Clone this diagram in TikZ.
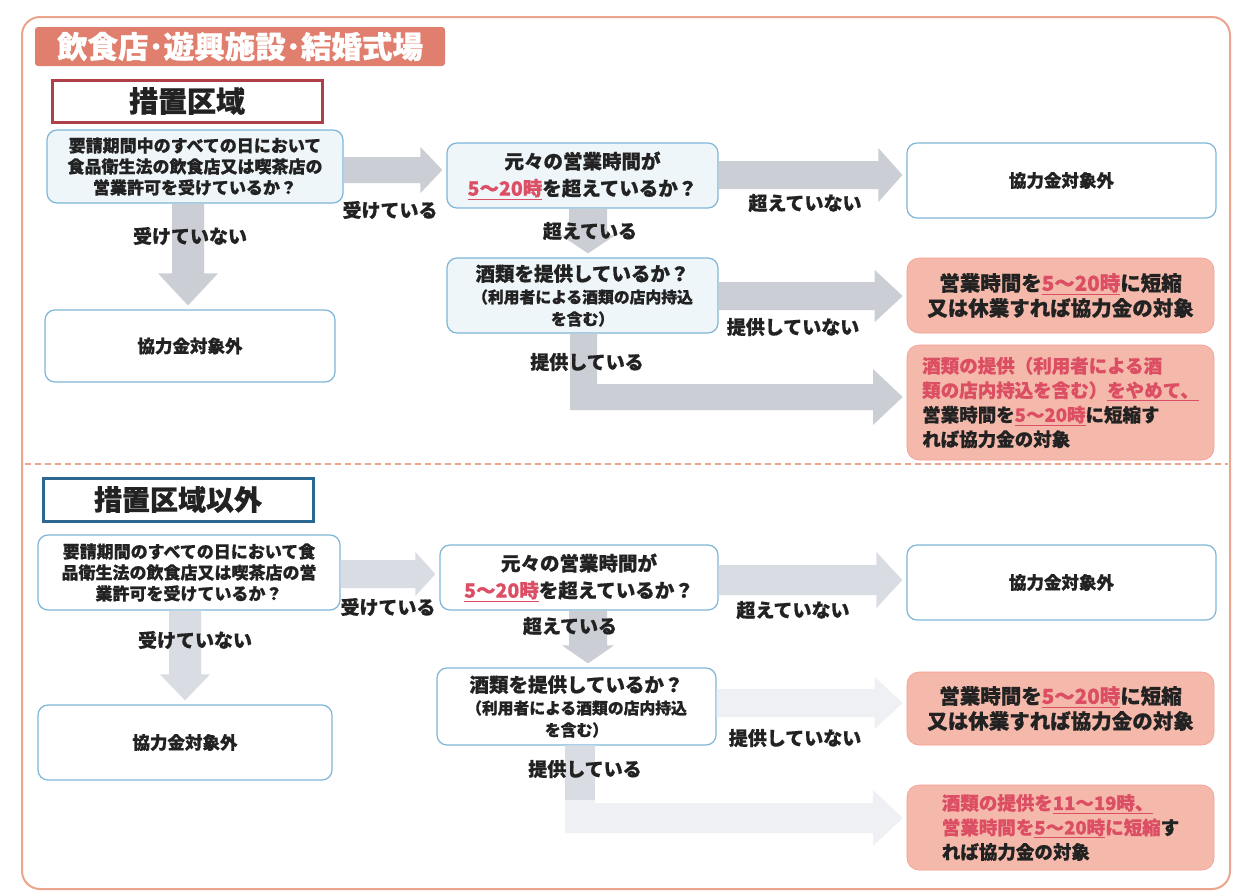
\documentclass[tikz,border=0pt]{standalone}
\usepackage{fontspec}
\setmainfont{Noto Sans CJK JP}[BoldFeatures={FakeBold=0.8}]
\usetikzlibrary{calc}
\definecolor{frame}{HTML}{EBA58C}
\definecolor{banner}{HTML}{E07F6E}
\definecolor{zred}{HTML}{B04048}
\definecolor{zblue}{HTML}{2A6890}
\definecolor{boxblue}{HTML}{7FB6D6}
\definecolor{qfill}{HTML}{EEF6FA}
\definecolor{salmon}{HTML}{F4B9AA}
\definecolor{txt}{HTML}{222222}
\definecolor{hired}{HTML}{DC4E64}
\definecolor{arrgray}{HTML}{CBCED5}
\definecolor{arrlight}{HTML}{D9DCE2}
\definecolor{arrfaint}{HTML}{EEF0F3}
\newcommand\hl[1]{{\color{hired}\underline{#1}}}
\newcommand\rd[1]{{\color{hired}#1}}
% right block arrow: style, from anchor, to anchor, y, shaft half, head half, head length
\newcommand\rightarr[7]{%
 \fill[#1] ($(#2 |- 0,#4)+(0,-#5)$) -- ($(#3 |- 0,#4)+(-#7-4,-#5)$) -- ($(#3 |- 0,#4)+(-#7-4,-#6)$)
  -- ($(#3 |- 0,#4)+(-4,0)$) -- ($(#3 |- 0,#4)+(-#7-4,#6)$) -- ($(#3 |- 0,#4)+(-#7-4,#5)$)
  -- ($(#2 |- 0,#4)+(0,#5)$) -- cycle;}
% down block arrow: style, from anchor, to anchor, x, shaft half, head half, head length
\newcommand\downarr[7]{%
 \fill[#1] ($(#4,0 |- #2)+(-#5,0)$) -- ($(#4,0 |- #3)+(-#5,-#7-4)$) -- ($(#4,0 |- #3)+(-#6,-#7-4)$)
  -- ($(#4,0 |- #3)+(0,-4)$) -- ($(#4,0 |- #3)+(#6,-#7-4)$) -- ($(#4,0 |- #3)+(#5,-#7-4)$)
  -- ($(#4,0 |- #2)+(#5,0)$) -- cycle;}
\tikzset{
 qbox/.style={draw=boxblue, line width=1.2pt, rounded corners=10pt, fill=qfill, align=center,
   font=\fontsize{17}{21}\selectfont\bfseries, text=txt, inner sep=0pt},
 wbox/.style={qbox, fill=white},
 obox/.style={wbox, font=\fontsize{17.5}{21}\selectfont\bfseries},
 sbox/.style={draw=salmon!85!red, line width=0.6pt, rounded corners=12pt, fill=salmon, align=center,
   font=\fontsize{20.5}{25}\selectfont\bfseries, text=txt, inner sep=0pt},
 fbox/.style={sbox, align=left, font=\fontsize{18.5}{24.5}\selectfont\bfseries},
 tbox/.style={font=\fontsize{19.5}{27}\selectfont\bfseries},
 dbox/.style={font=\fontsize{15.8}{22}\selectfont\bfseries},
 zbox/.style={line width=3pt, fill=white, text=txt, inner sep=0pt},
 lbl/.style={font=\fontsize{19}{20}\selectfont\bfseries, text=txt, inner sep=1pt},
}
\begin{document}
\begin{tikzpicture}[x=1pt,y=-1pt]
\useasboundingbox (0,0) rectangle (1234,894);
\fill[white] (0,0) rectangle (1234,894);
\draw[frame, line width=2pt, rounded corners=18pt] (22,17) rectangle (1230,889);
\node[fill=banner, rounded corners=3pt, minimum width=410, minimum height=39, inner sep=0pt,
  text=white, font=\fontsize{30.5}{32}\selectfont\bfseries] (title) at (240,46.5) {飲食店･遊興施設･結婚式場};
% dashed separator
\coordinate (sepl) at (25,464);
\coordinate (sepr) at (1228,464);
\draw[frame, line width=1.8pt, dash pattern=on 6pt off 4pt] (sepl) -- (sepr);

% ===== upper =====
\node[zbox, draw=zred, minimum width=270, minimum height=42, font=\fontsize{29}{30}\selectfont\bfseries] (z1) at (187,101) {措置区域};
\node[qbox, minimum width=296, minimum height=73] (a1) at (195,166.5)
 {要請期間中のすべての日において\\食品衛生法の飲食店又は喫茶店の\\営業許可を受けているか？};
\node[obox, minimum width=290, minimum height=72] (x1) at (190,346) {協力金対象外};
\node[qbox, tbox, minimum width=271, minimum height=65] (b1) at (582.5,175.5)
 {元々の営業時間が\\\hl{5～20時}を超えているか？};
\node[obox, minimum width=309, minimum height=75] (c1) at (1061.5,180.5) {協力金対象外};
\node[qbox, dbox, minimum width=271, minimum height=75] (d1) at (582.5,295.5)
 {{\fontsize{19.5}{22}\selectfont 酒類を提供しているか？}\\（利用者による酒類の店内持込\\を含む）};
\node[sbox, minimum width=307, minimum height=75] (e1) at (1060.5,295.5)
 {営業時間を\hl{5～20時}に短縮\\又は休業すれば協力金の対象};
\node[fbox, minimum width=307, minimum height=115] (f1) at (1060.5,402.5)
 {\rd{酒類の提供（利用者による酒}\\\rd{類の店内持込を含む）}\hl{をやめて、}\\営業時間を\hl{5～20時}に短縮す\\れば協力金の対象};

\rightarr{arrgray}{a1.east}{b1.west}{170}{13}{23}{22}
\downarr{arrgray}{a1.south}{x1.north}{188}{16}{30}{32}
\rightarr{arrgray}{b1.east}{c1.west}{175}{14}{27}{24}
\downarr{arrgray}{b1.south}{d1.north}{588}{19}{27}{18}
\rightarr{arrgray}{d1.east}{e1.west}{296}{14}{26}{28}
\fill[arrgray] (570,0 |- d1.south) -- (570,410) -- (873,410) -- (873,425) -- ($(f1.west |- 0,397)+(-4,0)$)
  -- (873,369) -- (873,384) -- (597,384) -- (597,0 |- d1.south) -- cycle;

\node[lbl] (l1) at (390,210) {受けている};
\node[lbl] (l2) at (190,236) {受けていない};
\node[lbl] (l3) at (590,231) {超えている};
\node[lbl] (l4) at (805,203) {超えていない};
\node[lbl] (l5) at (793,327) {提供していない};
\node[lbl] (l6) at (587,362) {提供している};

% ===== lower =====
\node[zbox, draw=zblue, minimum width=270, minimum height=43, font=\fontsize{28}{30}\selectfont\bfseries] (z2) at (178,499.5) {措置区域以外};
\node[wbox, minimum width=302, minimum height=75] (a2) at (189,572.5)
 {要請期間のすべての日において食\\品衛生法の飲食店又は喫茶店の営\\業許可を受けているか？};
\node[obox, minimum width=294, minimum height=75] (x2) at (185,742.5) {協力金対象外};
\node[wbox, tbox, minimum width=278, minimum height=65] (b2) at (579,577.5)
 {元々の営業時間が\\\hl{5～20時}を超えているか？};
\node[obox, minimum width=309, minimum height=75] (c2) at (1061.5,582.5) {協力金対象外};
\node[wbox, dbox, minimum width=279, minimum height=77] (d2) at (576.5,706.5)
 {{\fontsize{19.5}{22}\selectfont 酒類を提供しているか？}\\（利用者による酒類の店内持込\\を含む）};
\node[sbox, minimum width=307, minimum height=73] (e2) at (1060.5,708.5)
 {営業時間を\hl{5～20時}に短縮\\又は休業すれば協力金の対象};
\node[fbox, minimum width=307, minimum height=85] (f2) at (1060.5,827.5)
 {\rd{酒類の提供を}\hl{11～19時、}\\\rd{営業時間を}\hl{5～20時}\rd{に短縮}す\\れば協力金の対象};

\rightarr{arrlight}{a2.east}{b2.west}{574}{14}{22}{20}
\downarr{arrlight}{a2.south}{x2.north}{185}{16}{25}{26}
\rightarr{arrlight}{b2.east}{c2.west}{580}{15}{28}{26}
\downarr{arrgray}{b2.south}{d2.north}{588}{19}{26}{18}
\rightarr{arrfaint}{d2.east}{e2.west}{703}{14}{26}{28}
\fill[arrfaint] (565,0 |- d2.south) -- (565,833) -- (873,833) -- (873,846) -- ($(f2.west |- 0,818)+(-4,0)$)
  -- (873,790) -- (873,803) -- (595,803) -- (595,0 |- d2.south) -- cycle;
\fill[arrlight] (565,0 |- d2.south) rectangle (595,800);

\node[lbl] (m1) at (388,607) {受けている};
\node[lbl] (m2) at (195,640) {受けていない};
\node[lbl] (m3) at (570,626) {超えている};
\node[lbl] (m4) at (793,610) {超えていない};
\node[lbl] (m5) at (795,738) {提供していない};
\node[lbl] (m6) at (585,769) {提供している};
\end{tikzpicture}
\end{document}
